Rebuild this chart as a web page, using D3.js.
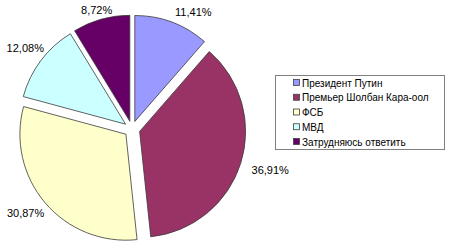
<!DOCTYPE html>
<html>
<head>
<meta charset="utf-8">
<script src="https://cdn.jsdelivr.net/npm/d3@7"></script>
<style>
  body { margin: 0; background: #fff; }
  text { font-family: Arial, "Liberation Sans", sans-serif; fill: #000; }
</style>
</head>
<body>
<div id="main"></div>
<script>
var WIDTH = 450
var HEIGHT = 249

// data
var categories = ["Президент Путин", "Премьер Шолбан Кара-оол", "ФСБ", "МВД", "Затрудняюсь ответить"]
var values = [11.41, 36.91, 30.87, 12.08, 8.72]
var labels = ["11,41%", "36,91%", "30,87%", "12,08%", "8,72%"]
var colors = ["#9999ff", "#993366", "#ffffcc", "#ccffff", "#660066"]

var cx = 132, cy = 129, R = 106, explode = 8
// small hand adjustments of label placement (excel puts them a bit off the bisector)
var nudge = [[15, 7], [5, -1], [-1.5, -5.5], [4, 2], [0, 7]]

const svg = d3.select('#main').append("svg")
    .attr('width', WIDTH)
    .attr('height', HEIGHT)

svg.append('rect').attr('width', WIDTH).attr('height', HEIGHT).attr('fill', '#fff')

var pie = d3.pie().sort(null).value(d => d)
var arcs = pie(values)
var arc = d3.arc().innerRadius(0).outerRadius(R)

var g = svg.append('g')
    .attr('transform', 'translate(' + cx + ',' + cy + ')')

function mid(d) { return (d.startAngle + d.endAngle) / 2 }

g.selectAll('path')
    .data(arcs)
    .enter()
    .append('path')
    .attr('d', arc)
    .attr('fill', (d, i) => colors[i])
    .attr('stroke', '#3a3a3a')
    .attr('stroke-width', 0.8)
    .attr('transform', d => {
        var a = mid(d)
        return 'translate(' + (Math.sin(a) * explode) + ',' + (-Math.cos(a) * explode) + ')'
    })

function labelPos(d, i) {
    var a = mid(d), ux = Math.sin(a), uy = -Math.cos(a)
    var dist = 121 + Math.abs(ux) * 18 + Math.abs(uy) * 5
    return [ux * dist + nudge[i][0], uy * dist + nudge[i][1]]
}

// value labels outside each slice
g.selectAll('text.val')
    .data(arcs)
    .enter()
    .append('text')
    .attr('class', 'val')
    .attr('font-size', 11)
    .attr('text-anchor', 'middle')
    .attr('dy', '0.35em')
    .attr('x', (d, i) => labelPos(d, i)[0])
    .attr('y', (d, i) => labelPos(d, i)[1])
    .text((d, i) => labels[i])

// legend
var lg = svg.append('g').attr('transform', 'translate(275,75)')
lg.append('rect')
    .attr('x', 0.5).attr('y', 0.5)
    .attr('width', 169).attr('height', 74)
    .attr('fill', '#fff')
    .attr('stroke', '#808080')
    .attr('stroke-width', 1)

var ly = d3.scalePoint().domain(categories).range([8, 67])

var items = lg.selectAll('g.item')
    .data(categories)
    .enter()
    .append('g')
    .attr('class', 'item')
    .attr('transform', d => 'translate(0,' + ly(d) + ')')

items.append('rect')
    .attr('x', 18.5).attr('y', -3.5)
    .attr('width', 6).attr('height', 6)
    .attr('fill', (d, i) => colors[i])
    .attr('stroke', '#404040')
    .attr('stroke-width', 0.8)

items.append('text')
    .attr('x', 27)
    .attr('dy', '0.35em')
    .attr('font-size', 10)
    .text(d => d)
</script>
</body>
</html>
